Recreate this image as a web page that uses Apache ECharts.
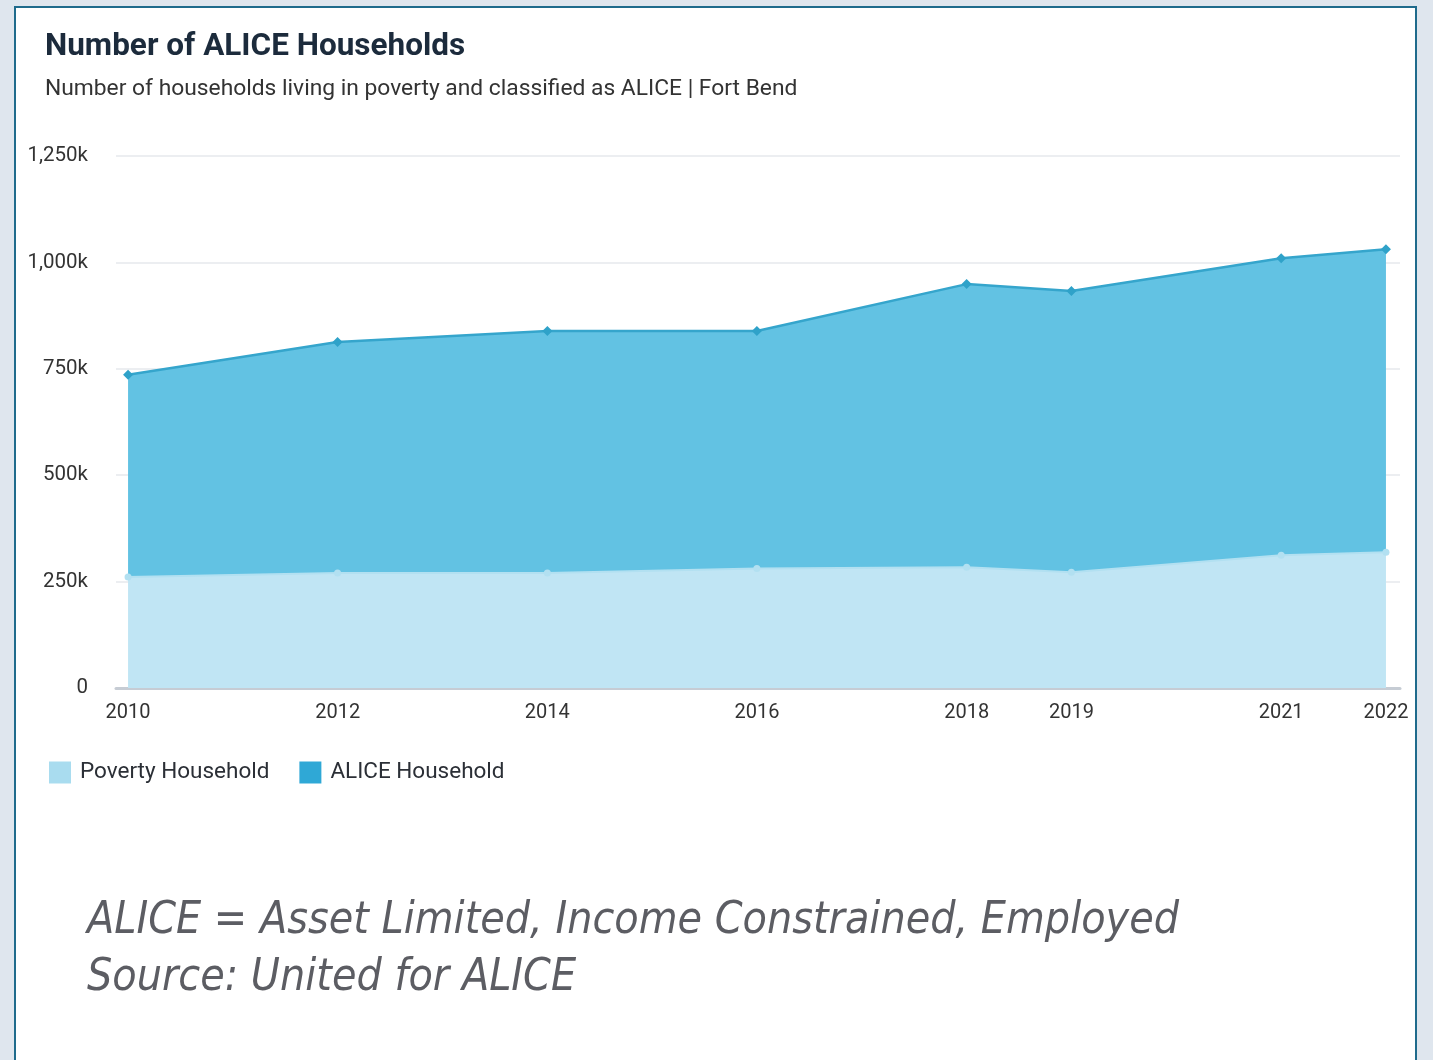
<!DOCTYPE html>
<html>
<head>
<meta charset="utf-8">
<script src="https://cdn.jsdelivr.net/npm/echarts@6/dist/echarts.min.js"></script>
<style>
html,body{margin:0;padding:0;background:#dfe6ee;}
#frame{position:absolute;left:14px;top:6px;width:1403px;height:1100px;background:#fff;border:2px solid #1f6b8c;box-sizing:border-box;}
#chart{position:absolute;left:0;top:0;width:1433px;height:1060px;}
</style>
</head>
<body>
<div id="frame"></div>
<div id="chart"></div>
<script>
const years = [2010, 2012, 2014, 2016, 2018, 2019, 2021, 2022];
const poverty = [261000, 270000, 270000, 281000, 284000, 272000, 312000, 319000];
const alice = [475000, 543000, 569000, 558000, 665000, 661000, 698000, 712000];
const yTicks = [0, 250000, 500000, 750000, 1000000, 1250000];

const YEAR_MS = 365.25 * 86400000;
const ts = y => Date.UTC(y, 0, 1);
const xMinYear = years[0] - 0.115, xMaxYear = years[years.length - 1] + 0.134;
const chart = echarts.init(document.getElementById('chart'));
const fmt = v => v === 0 ? '0' : (v / 1000).toLocaleString('en-US') + 'k';
chart.setOption({
  backgroundColor: 'transparent',
  animation: false,
  title: [{
    text: 'Number of ALICE Households',
    left: 40, top: 26,
    textStyle: {fontFamily: 'Roboto', fontSize: 31.5, fontWeight: 'bold', color: '#1c2b3c'}
  }, {
    text: 'Number of households living in poverty and classified as ALICE | Fort Bend',
    left: 40, top: 73,
    textStyle: {fontFamily: 'Roboto', fontSize: 22.8, fontWeight: 'normal', color: '#333'}
  }],
  legend: {
    left: 44, top: 756, itemWidth: 22, itemHeight: 22, itemGap: 30,
    icon: 'rect',
    textStyle: {fontFamily: 'Roboto', fontSize: 22.5, color: '#2b2f36', padding: [0, 0, 0, 4]},
    data: [{name: 'Poverty Household', itemStyle: {color: '#a9dcef'}},
           {name: 'ALICE Household', itemStyle: {color: '#2fa8d6'}}]
  },
  grid: {left: 116, right: 33, top: 156, bottom: 372, containLabel: false},
  xAxis: [{
    type: 'time', position: 'bottom',
    min: ts(years[0]) - 0.115 * YEAR_MS, max: ts(years[years.length - 1]) + 0.134 * YEAR_MS,
    axisLine: {show: true, lineStyle: {color: '#c6ccd4', width: 3}},
    axisTick: {show: false},
    splitLine: {show: false},
    axisLabel: {show: false}
  }, {
    type: 'value', position: 'bottom', offset: 0,
    min: xMinYear, max: xMaxYear,
    axisLine: {show: false},
    axisTick: {show: false},
    splitLine: {show: false},
    axisLabel: {customValues: years, formatter: v => String(Math.round(v)),
      fontFamily: 'Roboto', fontSize: 20, color: '#333', margin: 15, hideOverlap: false}
  }],
  yAxis: {
    type: 'value', min: 0, max: 1250000, interval: 250000,
    axisLine: {show: false}, axisTick: {show: false},
    splitLine: {lineStyle: {color: '#e6e8ec', width: 1.5}},
    axisLabel: {formatter: fmt, fontFamily: 'Roboto', fontSize: 20.5, color: '#333', margin: 28}
  },
  series: [{
    name: 'Poverty Household', type: 'line', stack: 'total', xAxisIndex: 0,
    data: years.map((y, i) => [ts(y), poverty[i]]),
    symbol: 'circle', symbolSize: 7, showSymbol: true,
    itemStyle: {color: '#b2e0f1'},
    lineStyle: {color: '#b2e0f1', width: 2},
    areaStyle: {color: '#c0e5f4', opacity: 1}
  }, {
    name: 'ALICE Household', type: 'line', stack: 'total', xAxisIndex: 0,
    data: years.map((y, i) => [ts(y), alice[i]]),
    symbol: 'diamond', symbolSize: 10, showSymbol: true,
    itemStyle: {color: '#2fa2c9'},
    lineStyle: {color: '#35a5cc', width: 2.5},
    areaStyle: {color: '#62c2e3', opacity: 1}
  }],
  graphic: [{
    type: 'text', left: 87, top: 893,
    style: {text: 'ALICE = Asset Limited, Income Constrained, Employed\nSource: United for ALICE',
      font: 'italic 44.3px "DejaVu Sans Condensed", sans-serif', fill: '#5c5d63', lineHeight: 57}
  }]
});
</script>
</body>
</html>
